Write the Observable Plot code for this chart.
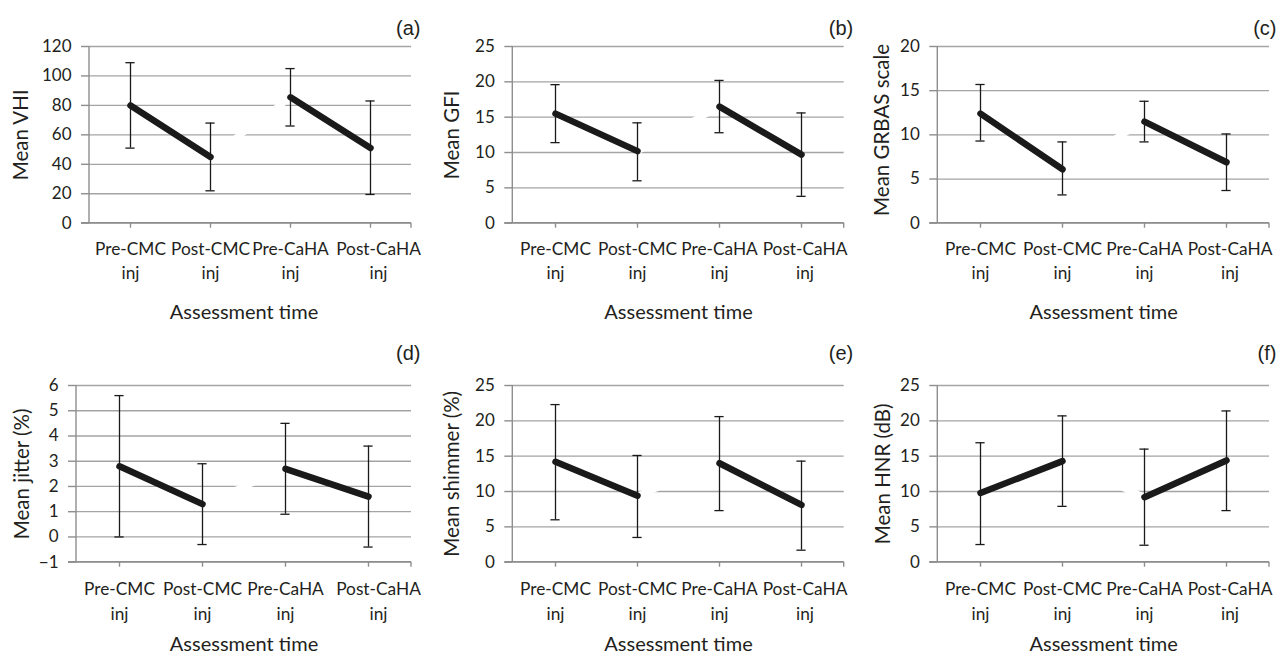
<!DOCTYPE html>
<html><head><meta charset="utf-8">
<script src="https://cdn.jsdelivr.net/npm/d3@7"></script>
<script src="https://cdn.jsdelivr.net/npm/@observablehq/plot@0.6"></script>
<style>
html,body{margin:0;padding:0;background:#fff;}
#wrap{position:relative;width:1280px;height:654px;overflow:hidden;background:#fff;}
.cell{position:absolute;}
.cell svg{overflow:visible;}
</style></head><body><div id="wrap"></div>
<script>
// ---------- data ----------
const categories = ["Pre-CMC inj", "Post-CMC inj", "Pre-CaHA inj", "Post-CaHA inj"];
const tickLabels = ["Pre-CMC\ninj", "Post-CMC\ninj", "Pre-CaHA\ninj", "Post-CaHA\ninj"];
const groups = ["CMC", "CMC", "CaHA", "CaHA"];
const panelLetters = ["(a)", "(b)", "(c)", "(d)", "(e)", "(f)"];
const yLabels = ["Mean VHI", "Mean GFI", "Mean GRBAS scale", "Mean jitter (%)", "Mean shimmer (%)", "Mean HNR (dB)"];
const xLabel = "Assessment time";

const vhiMean = [80, 45, 85.5, 51];
const vhiLow = [51, 22, 66, 19.5];
const vhiHigh = [109, 68, 105, 83];

const gfiMean = [15.5, 10.2, 16.5, 9.7];
const gfiLow = [11.4, 6.0, 12.8, 3.8];
const gfiHigh = [19.6, 14.2, 20.2, 15.6];

const grbasMean = [12.4, 6.1, 11.5, 6.9];
const grbasLow = [9.3, 3.2, 9.2, 3.7];
const grbasHigh = [15.7, 9.2, 13.8, 10.1];

const jitterMean = [2.8, 1.3, 2.7, 1.6];
const jitterLow = [0.0, -0.3, 0.9, -0.4];
const jitterHigh = [5.6, 2.9, 4.5, 3.6];

const shimmerMean = [14.2, 9.4, 14.0, 8.1];
const shimmerLow = [6.0, 3.5, 7.3, 1.7];
const shimmerHigh = [22.3, 15.1, 20.6, 14.3];

const hnrMean = [9.8, 14.3, 9.2, 14.4];
const hnrLow = [2.5, 7.9, 2.4, 7.3];
const hnrHigh = [16.9, 20.7, 16.0, 21.4];

const vhiTicks = [0, 20, 40, 60, 80, 100, 120];
const gfiTicks = [0, 5, 10, 15, 20, 25];
const grbasTicks = [0, 5, 10, 15, 20];
const jitterTicks = [-1, 0, 1, 2, 3, 4, 5, 6];
const shimmerTicks = [0, 5, 10, 15, 20, 25];
const hnrTicks = [0, 5, 10, 15, 20, 25];

const series = [
  [vhiMean, vhiLow, vhiHigh, vhiTicks],
  [gfiMean, gfiLow, gfiHigh, gfiTicks],
  [grbasMean, grbasLow, grbasHigh, grbasTicks],
  [jitterMean, jitterLow, jitterHigh, jitterTicks],
  [shimmerMean, shimmerLow, shimmerHigh, shimmerTicks],
  [hnrMean, hnrLow, hnrHigh, hnrTicks]
];

// ---------- layout / style ----------
const gridColor = "#a4a4a4";
const axisColor = "#8e8e8e";
const textColor = "#231f20";
const lineColor = "#1a1a1a";
const font = "Lato, 'Open Sans', sans-serif";
const rowStyle = [
  {top: 0, height: 327, mT: 46, mB: 104.3, letterDy: -17.5, tickDy: 14.5, titleDy: 82},
  {top: 327, height: 327, mT: 58, mB: 92.3, letterDy: -31.5, tickDy: 16, titleDy: 74.5}
];
const colStyle = [
  {left: 0, width: 427},
  {left: 427, width: 427},
  {left: 854, width: 426}
];
const panelStyle = [
  {mL: 89, mR: 16, yDx: -68, yDy: 0, xDx: -6.5, lastDx: 8, letterDx: 9},
  {mL: 85.3, mR: 10.3, yDx: -60, yDy: 0, xDx: 0, lastDx: 3.5, letterDx: 9},
  {mL: 83.3, mR: 11, yDx: -55, yDy: -5, xDx: 0, lastDx: 3.5, letterDx: 7},
  {mL: 76, mR: 16, yDx: -54, yDy: 0, xDx: 0, lastDx: 10, letterDx: 9},
  {mL: 85.3, mR: 10.3, yDx: -60, yDy: 0, xDx: 0, lastDx: 3.5, letterDx: 9},
  {mL: 83.3, mR: 11, yDx: -54, yDy: 0, xDx: 0, lastDx: 3.5, letterDx: 7}
];

function axisLines(index, scales, values, dims) {
  const {width, height, marginLeft: l, marginRight: r, marginTop: t, marginBottom: b} = dims;
  const g = d3.create("svg:g").attr("stroke", axisColor).attr("stroke-width", 1.4).attr("fill", "none");
  g.append("line").attr("x1", l).attr("x2", l).attr("y1", t).attr("y2", height - b);
  g.append("line").attr("x1", l - 8).attr("x2", width - r).attr("y1", height - b).attr("y2", height - b);
  g.append("line").attr("x1", width - r).attr("x2", width - r).attr("y1", height - b).attr("y2", height - b + 5);
  return g.node();
}

const wrap = document.getElementById("wrap");

series.forEach(([mean, low, high, ticks], p) => {
  const row = rowStyle[Math.floor(p / 3)];
  const col = colStyle[p % 3];
  const ps = panelStyle[p];
  const rows = categories.map((c, i) => ({cat: c, label: tickLabels[i], group: groups[i], mean: mean[i], lo: low[i], hi: high[i]}));

  const chart = Plot.plot({
    width: col.width,
    height: row.height,
    marginLeft: ps.mL,
    marginRight: ps.mR,
    marginTop: row.mT,
    marginBottom: row.mB,
    style: {fontFamily: font, background: "white", color: textColor},
    x: {type: "point", domain: categories, padding: 0.5},
    y: {domain: [ticks[0], ticks[ticks.length - 1]]},
    marks: [
      Plot.gridY({ticks, stroke: gridColor, strokeOpacity: 1, strokeWidth: 1.3}),
      Plot.line(rows.slice(1, 3), {x: "cat", y: "mean", stroke: "white", strokeWidth: 6.5}),
      Plot.ruleX(rows, {x: "cat", y1: "lo", y2: "hi", stroke: lineColor, strokeWidth: 1.3}),
      Plot.ruleY(rows, {y: "lo", x1: "cat", x2: "cat", stroke: lineColor, strokeWidth: 1.3, insetLeft: -4.6, insetRight: -4.6}),
      Plot.ruleY(rows, {y: "hi", x1: "cat", x2: "cat", stroke: lineColor, strokeWidth: 1.3, insetLeft: -4.6, insetRight: -4.6}),
      Plot.line(rows, {x: "cat", y: "mean", z: "group", stroke: lineColor, strokeWidth: 6.5, strokeLinecap: "round", strokeLinejoin: "round"}),
      axisLines,
      Plot.axisY({ticks, tickSize: 8, tickPadding: 10, stroke: axisColor, strokeWidth: 1.4, fill: textColor, fontSize: 17, label: null,
        tickFormat: d => String(d).replace("-", "\u2212")}),
      Plot.axisX({ticks: categories, tickSize: 5, stroke: axisColor, strokeWidth: 1.4, tickFormat: () => "", label: null}),
      Plot.text(rows.slice(0, 3), {x: "cat", text: "label", frameAnchor: "bottom", lineAnchor: "top", dy: row.tickDy, lineHeight: 1.4, fontSize: 17.3, fill: textColor}),
      Plot.text(rows.slice(3), {x: "cat", text: "label", frameAnchor: "bottom", lineAnchor: "top", dy: row.tickDy, dx: ps.lastDx, lineHeight: 1.4, fontSize: 17.3, fill: textColor}),
      Plot.text([xLabel], {text: d => d, frameAnchor: "bottom", lineAnchor: "top", dy: row.titleDy, dx: ps.xDx, fontSize: 20, fill: textColor}),
      Plot.text([yLabels[p]], {text: d => d, frameAnchor: "left", textAnchor: "middle", lineAnchor: "middle", rotate: -90, dx: ps.yDx, dy: ps.yDy, fontSize: 20.5, fill: textColor}),
      Plot.text([panelLetters[p]], {text: d => d, frameAnchor: "top-right", textAnchor: "end", lineAnchor: "middle", dx: ps.letterDx, dy: row.letterDy,
        fontFamily: "'Liberation Sans', Arial, sans-serif", fontSize: 20, fill: textColor})
    ]
  });
  const cell = document.createElement("div");
  cell.className = "cell";
  cell.style.left = col.left + "px";
  cell.style.top = row.top + "px";
  cell.appendChild(chart);
  wrap.appendChild(cell);
});
</script>
</body></html>
